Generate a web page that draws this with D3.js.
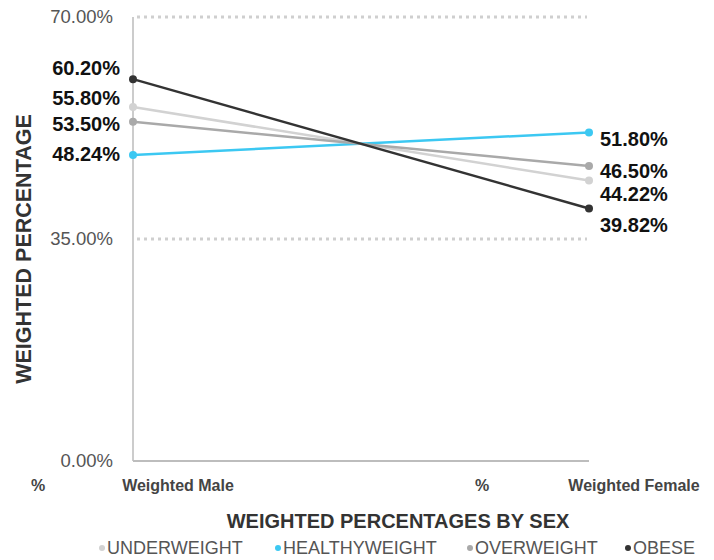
<!DOCTYPE html>
<html>
<head>
<meta charset="utf-8">
<script src="https://cdn.jsdelivr.net/npm/d3@7"></script>
<style>
    body { margin: 0; background: #fff; }
    svg { display: block; font-family: "Liberation Sans", Arial, Helvetica, sans-serif; }
</style>
</head>
<body>
<script>
//chart values
var categories = ["Weighted Male", "Weighted Female"];
var seriesNames = ["UNDERWEIGHT", "HEALTHYWEIGHT", "OVERWEIGHT", "OBESE"];
var underweight = [55.80, 44.22];
var healthyweight = [48.24, 51.80];
var overweight = [53.50, 46.50];
var obese = [60.20, 39.82];
var yTicks = [0, 35, 70];

//series colours
var colors = ["#d2d2d2", "#3cc8f2", "#a9a9a9", "#333333"];
var seriesValues = [underweight, healthyweight, overweight, obese];

//label nudges so the value labels don't collide (male side, female side)
var labelNudge = {
    "UNDERWEIGHT": [-9, 13],
    "HEALTHYWEIGHT": [-1, 7],
    "OVERWEIGHT": [2, 5],
    "OBESE": [-11, 17]
};

var width = 714, height = 560;

var svg = d3.select("body")
    .append("svg")
    .attr("width", width)
    .attr("height", height);

//scales
var x = d3.scalePoint()
    .domain(categories)
    .range([133, 589]);

var y = d3.scaleLinear()
    .domain([0, 70])
    .range([461, 17]);

//dotted grid lines (not at zero)
svg.selectAll(".grid")
    .data(yTicks.filter(function(d){ return d > 0; }))
    .enter()
    .append("line")
    .attr("class", "grid")
    .attr("x1", 137)
    .attr("x2", 587)
    .attr("y1", function(d){ return y(d); })
    .attr("y2", function(d){ return y(d); })
    .attr("stroke", "#cfcfcf")
    .attr("stroke-width", 3)
    .attr("stroke-dasharray", "3,4");

//y axis line
svg.append("line")
    .attr("x1", 133).attr("x2", 133)
    .attr("y1", y(70)).attr("y2", y(0))
    .attr("stroke", "#cccccc")
    .attr("stroke-width", 2);

//x axis line
svg.append("line")
    .attr("x1", 133).attr("x2", x("Weighted Female"))
    .attr("y1", y(0)).attr("y2", y(0))
    .attr("stroke", "#bdbdbd")
    .attr("stroke-width", 2);

//y tick labels
svg.selectAll(".ytick")
    .data(yTicks)
    .enter()
    .append("text")
    .attr("class", "ytick")
    .attr("x", 113)
    .attr("y", function(d){ return y(d); })
    .attr("dy", "0.35em")
    .attr("text-anchor", "end")
    .attr("font-size", "18.5px")
    .attr("fill", "#555")
    .text(function(d){ return d3.format(".2f")(d) + "%"; });

//x tick labels
categories.forEach(function(c, i){
    svg.append("text")
        .attr("x", x(c) + 45)
        .attr("y", 491)
        .attr("text-anchor", "middle")
        .attr("font-size", "16px")
        .attr("font-weight", "bold")
        .attr("fill", "#444")
        .text(c);

    svg.append("text")
        .attr("x", x(c) - (i == 0 ? 95 : 107))
        .attr("y", 491)
        .attr("text-anchor", "middle")
        .attr("font-size", "16px")
        .attr("font-weight", "bold")
        .attr("fill", "#444")
        .text("%");
});

//axis titles
svg.append("text")
    .attr("transform", "translate(31,249) rotate(-90)")
    .attr("text-anchor", "middle")
    .attr("font-size", "21.5px")
    .attr("font-weight", "bold")
    .attr("fill", "#333")
    .text("WEIGHTED PERCENTAGE");

svg.append("text")
    .attr("x", 398)
    .attr("y", 528)
    .attr("text-anchor", "middle")
    .attr("font-size", "20px")
    .attr("font-weight", "bold")
    .attr("fill", "#333")
    .text("WEIGHTED PERCENTAGES BY SEX");

//lines and points
var line = d3.line()
    .x(function(d, i){ return x(categories[i]); })
    .y(function(d){ return y(d); });

seriesNames.forEach(function(name, s){
    var vals = seriesValues[s];

    svg.append("path")
        .datum(vals)
        .attr("d", line)
        .attr("fill", "none")
        .attr("stroke", colors[s])
        .attr("stroke-width", 2.5);

    svg.selectAll(".pt" + s)
        .data(vals)
        .enter()
        .append("circle")
        .attr("cx", function(d, i){ return x(categories[i]); })
        .attr("cy", function(d){ return y(d); })
        .attr("r", 4)
        .attr("fill", colors[s]);

    //value labels
    svg.selectAll(".lbl" + s)
        .data(vals)
        .enter()
        .append("text")
        .attr("x", function(d, i){ return i == 0 ? x(categories[i]) - 13 : x(categories[i]) + 11; })
        .attr("y", function(d, i){ return y(d) + labelNudge[name][i]; })
        .attr("dy", "0.35em")
        .attr("text-anchor", function(d, i){ return i == 0 ? "end" : "start"; })
        .attr("font-size", "20px")
        .attr("font-weight", "bold")
        .attr("fill", "#111")
        .text(function(d){ return d3.format(".2f")(d) + "%"; });
});

//legend
var legendX = [102, 278, 470, 628];
var legend = svg.selectAll(".legend")
    .data(seriesNames)
    .enter()
    .append("g")
    .attr("class", "legend")
    .attr("transform", function(d, i){ return "translate(" + legendX[i] + ",548)"; });

legend.append("circle")
    .attr("r", 3)
    .attr("fill", function(d, i){ return colors[i]; });

legend.append("text")
    .attr("x", 5)
    .attr("dy", "0.35em")
    .attr("font-size", "18px")
    .attr("fill", "#555")
    .text(function(d){ return d; });
</script>
</body>
</html>
